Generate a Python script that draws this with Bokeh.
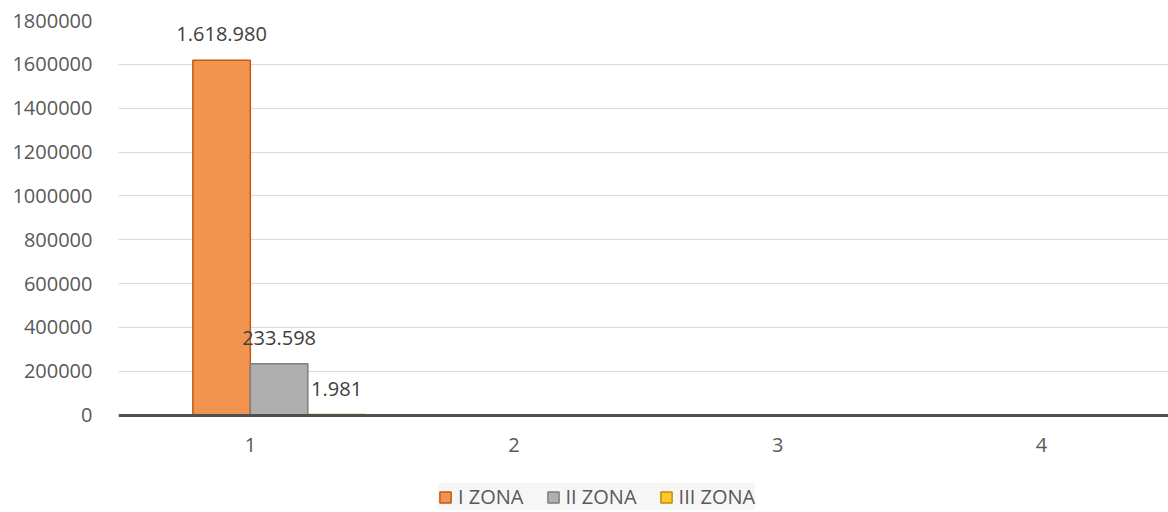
import math
from bokeh.plotting import figure
from bokeh.models import (ColumnDataSource, FixedTicker, Legend, LegendItem,
                          Range1d, BasicTickFormatter)
from bokeh.transform import dodge
from bokeh.core.properties import value
from bokeh.embed import file_html
from bokeh.resources import INLINE

# ---- data ----
categories = [1, 2, 3, 4]
category_labels = ["1", "2", "3", "4"]
series_names = ["I ZONA", "II ZONA", "III ZONA"]
zona_1 = [1618980, None, None, None]
zona_2 = [233598, None, None, None]
zona_3 = [1981, None, None, None]
y_ticks = [0, 200000, 400000, 600000, 800000, 1000000, 1200000, 1400000, 1600000, 1800000]

FONT = "Open Sans"
TXT = "#595959"


def clean(vals):
    return [float("nan") if v is None else v for v in vals]


def fmt(v):
    return "" if v is None else f"{v:,}".replace(",", ".")


source = ColumnDataSource(dict(
    x=categories,
    z1=clean(zona_1), z2=clean(zona_2), z3=clean(zona_3),
    l1=[fmt(v) for v in zona_1], l2=[fmt(v) for v in zona_2], l3=[fmt(v) for v in zona_3],
))

# layout: frame from y=20 to bottom of figure; value 0 sits 97.5px above the bottom
W, H = 1168, 512
top_px, zero_px = 20, 414.5
y_max = y_ticks[-1]
frame_h = H - top_px
y_min = y_max - frame_h * y_max / (zero_px - top_px)

p = figure(width=W, height=H, output_backend="svg", toolbar_location=None,
           x_range=Range1d(0.5, 4.482), y_range=Range1d(y_min, y_max),
           min_border_left=118, min_border_right=0, min_border_top=top_px,
           min_border_bottom=0)
p.outline_line_color = None
p.background_fill_color = "white"
p.border_fill_color = "white"

bw = 0.218
fills = ["#F0944F", "#AFAFAF", "#FFC72C"]
lines = ["#C55A11", "#7F7F7F", "#BF9000"]
offsets = [-0.5 * bw, 0.5 * bw, 1.5 * bw]
cols = ["z1", "z2", "z3"]
labs = ["l1", "l2", "l3"]

renderers = []
for i in range(3):
    r = p.vbar(x=dodge("x", offsets[i], range=p.x_range), top=cols[i], bottom=0, width=bw,
               source=source, fill_color=fills[i], line_color=lines[i], line_width=1.5)
    renderers.append(r)
    p.text(x=dodge("x", offsets[i], range=p.x_range), y=cols[i], text=labs[i], source=source,
           text_align="center", text_baseline="middle", y_offset=-26,
           text_font=value(FONT), text_font_size="20px", text_color="#404040")

# axes
p.yaxis.ticker = FixedTicker(ticks=y_ticks)
p.yaxis.formatter = BasicTickFormatter(use_scientific=False)
p.yaxis.axis_line_color = None
p.yaxis.major_tick_line_color = None
p.yaxis.minor_tick_line_color = None
p.yaxis.major_label_standoff = 20
p.yaxis.major_label_text_font = FONT
p.yaxis.major_label_text_font_size = "20px"
p.yaxis.major_label_text_color = TXT

p.xaxis.fixed_location = 0
p.xaxis.ticker = FixedTicker(ticks=categories)
p.xaxis.major_label_overrides = {c: l for c, l in zip(categories, category_labels)}
p.xaxis.axis_line_color = "#505050"
p.xaxis.axis_line_width = 3
p.xaxis.major_tick_line_color = None
p.xaxis.minor_tick_line_color = None
p.xaxis.major_label_standoff = 17
p.xaxis.major_label_text_font = FONT
p.xaxis.major_label_text_font_size = "20px"
p.xaxis.major_label_text_color = TXT

p.xgrid.grid_line_color = None
p.ygrid.grid_line_color = "#D9D9D9"
p.ygrid.grid_line_width = 1

legend = Legend(items=[LegendItem(label=series_names[i], renderers=[renderers[i]]) for i in range(3)],
                orientation="horizontal", location=(320, 2),
                label_text_font=FONT, label_text_font_size="20px", label_text_color=TXT,
                glyph_width=14, glyph_height=14, label_standoff=6, spacing=22,
                padding=13, margin=0, background_fill_color="#F5F5F5",
                border_line_color=None)
p.add_layout(legend, "center")

open("out.html", "w").write(file_html(p, INLINE))
